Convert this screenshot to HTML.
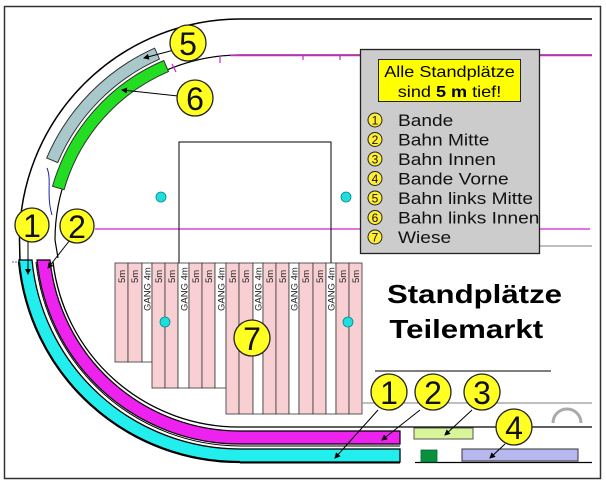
<!DOCTYPE html>
<html><head><meta charset="utf-8"><style>
html,body{margin:0;padding:0;background:#fff;}
svg{display:block;font-family:"Liberation Sans",sans-serif;}
</style></head><body>
<svg width="606" height="484" viewBox="0 0 606 484" xmlns="http://www.w3.org/2000/svg">
<rect x="0" y="0" width="606" height="484" fill="#fff"/>
<rect x="4.5" y="6.5" width="596" height="472" fill="none" stroke="#333" stroke-width="1.5"/>

<path d="M20,262 L19.5,240 A221,221 0 0 1 240,19 L592,19" fill="none" stroke="#000" stroke-width="1.5"/>
<path d="M58,258 L55,240 A185,185 0 0 1 240,55 L592,55" fill="none" stroke="#000" stroke-width="1.2"/>
<path d="M230,55.5 L592,55.5" stroke="#d020d0" stroke-width="1.5"/>
<g stroke="#d020d0" stroke-width="1.2">
<line x1="172" y1="64" x2="176" y2="72"/><line x1="220" y1="56" x2="220" y2="63"/>
<line x1="303" y1="56" x2="303" y2="60"/><line x1="340" y1="56" x2="340" y2="60"/>
</g>
<path d="M47,168 C52,180 46,195 52,215" fill="none" stroke="#2020b0" stroke-width="1"/>
<path d="M12,262 L22,262" stroke="#6060d0" stroke-width="1" stroke-dasharray="2,1"/>

<line x1="95" y1="229" x2="590" y2="229" stroke="#d020d0" stroke-width="1.3"/>
<line x1="540" y1="246" x2="592" y2="246" stroke="#999" stroke-width="1.2"/>

<path d="M46.7,158 A210,210 0 0 1 154.6,48.2 L159.5,59.1 A198,198 0 0 0 57.7,162.6 Z" fill="#a9c8cc" stroke="#333" stroke-width="1"/>
<path d="M52.5,186.3 A195,195 0 0 1 163.8,60.5 L168.5,71.6 A183,183 0 0 0 64.1,189.6 Z" fill="#22dd22" stroke="#333" stroke-width="1"/>

<rect x="179" y="142" width="152" height="130" fill="none" stroke="#000" stroke-width="1"/>

<g fill="#22dddd" stroke="#008888" stroke-width="0.8">
<circle cx="161" cy="197" r="5"/><circle cx="346" cy="197" r="5"/>
</g>

<g stroke="#333" stroke-width="0.8">
<rect x="115" y="263" width="13" height="99" fill="#f8d0d4"/>
<rect x="128" y="263" width="14" height="99" fill="#f8d0d4"/>
<rect x="142" y="263" width="10" height="99" fill="#fff"/>
<rect x="152" y="263" width="13" height="125" fill="#f8d0d4"/>
<rect x="165" y="263" width="13" height="125" fill="#f8d0d4"/>
<rect x="178" y="263" width="11" height="125" fill="#fff"/>
<rect x="189" y="263" width="13" height="125" fill="#f8d0d4"/>
<rect x="202" y="263" width="13" height="125" fill="#f8d0d4"/>
<rect x="215" y="263" width="11" height="125" fill="#fff"/>
<rect x="226" y="263" width="13" height="151" fill="#f8d0d4"/>
<rect x="239" y="263" width="14" height="151" fill="#f8d0d4"/>
<rect x="253" y="263" width="10" height="151" fill="#fff"/>
<rect x="263" y="263" width="13" height="151" fill="#f8d0d4"/>
<rect x="276" y="263" width="13" height="151" fill="#f8d0d4"/>
<rect x="289" y="263" width="10" height="151" fill="#fff"/>
<rect x="299" y="263" width="14" height="151" fill="#f8d0d4"/>
<rect x="313" y="263" width="13" height="151" fill="#f8d0d4"/>
<rect x="326" y="263" width="10" height="151" fill="#fff"/>
<rect x="336" y="263" width="13" height="151" fill="#f8d0d4"/>
<rect x="349" y="263" width="13" height="151" fill="#f8d0d4"/>
</g>
<g font-size="9.5" fill="#222">
<text transform="translate(125,283) rotate(-90)">5m</text>
<text transform="translate(138,283) rotate(-90)">5m</text>
<text transform="translate(150.5,311) rotate(-90)">GANG 4m</text>
<text transform="translate(162,283) rotate(-90)">5m</text>
<text transform="translate(175,283) rotate(-90)">5m</text>
<text transform="translate(187.5,311) rotate(-90)">GANG 4m</text>
<text transform="translate(199,283) rotate(-90)">5m</text>
<text transform="translate(212,283) rotate(-90)">5m</text>
<text transform="translate(224.5,311) rotate(-90)">GANG 4m</text>
<text transform="translate(236,283) rotate(-90)">5m</text>
<text transform="translate(249,283) rotate(-90)">5m</text>
<text transform="translate(261.5,311) rotate(-90)">GANG 4m</text>
<text transform="translate(273,283) rotate(-90)">5m</text>
<text transform="translate(286,283) rotate(-90)">5m</text>
<text transform="translate(297.5,311) rotate(-90)">GANG 4m</text>
<text transform="translate(309,283) rotate(-90)">5m</text>
<text transform="translate(323,283) rotate(-90)">5m</text>
<text transform="translate(334.5,311) rotate(-90)">GANG 4m</text>
<text transform="translate(346,283) rotate(-90)">5m</text>
<text transform="translate(359,283) rotate(-90)">5m</text>
</g>
<g fill="#22dddd" stroke="#008888" stroke-width="0.8">
<circle cx="165" cy="322" r="5"/><circle cx="348" cy="322" r="5"/>
</g>

<path d="M18.9,260 A222,222 0 0 0 240,462 L400,462 L400,449 L240,449 A209,209 0 0 1 32,260 Z" fill="#22eeee" stroke="#000" stroke-width="1.3"/>
<path d="M240,462.5 L400,462.5" stroke="#000" stroke-width="2"/>
<path d="M19,262 A221,221 0 0 0 240,462" fill="none" stroke="#000" stroke-width="2.2"/>
<path d="M36,262 A206,206 0 0 0 240,446 L400,446" fill="none" stroke="#000" stroke-width="1"/>
<path d="M37,260 A204,204 0 0 0 240,444 L400,444 L400,431 L240,431 A191,191 0 0 1 50,260 Z" fill="#ee22ee" stroke="#000" stroke-width="1.2"/>
<path d="M53,262 A187,187 0 0 0 240,427 L592,427" fill="none" stroke="#000" stroke-width="1.3"/>

<line x1="375" y1="371" x2="551" y2="371" stroke="#333" stroke-width="1.2"/>
<line x1="362" y1="403" x2="592" y2="403" stroke="#999" stroke-width="1.2"/>
<line x1="415" y1="462.5" x2="592" y2="462.5" stroke="#000" stroke-width="1.2"/>
<rect x="414" y="428" width="59" height="11" fill="#d9f59a" stroke="#555" stroke-width="1"/>
<rect x="421" y="450" width="16" height="12" fill="#0a8f3a" stroke="#064" stroke-width="0.8"/>
<rect x="462" y="449" width="116" height="12" fill="#b8b8f0" stroke="#333" stroke-width="1"/>
<path d="M553,423 A14,14 0 0 1 581,423" fill="none" stroke="#aaa" stroke-width="3"/>

<rect x="360.5" y="49.5" width="179" height="204" fill="#cccccc" stroke="#222" stroke-width="1.3"/>
<rect x="378.5" y="59.5" width="142" height="42" fill="#ffff00" stroke="#222" stroke-width="1"/>
<g transform="translate(449.5,0) scale(1.13,1)">
<text x="0" y="77" font-size="16" text-anchor="middle">Alle Standplätze</text>
<text x="0" y="97" font-size="16" text-anchor="middle">sind <tspan font-weight="bold">5 m</tspan> tief!</text>
</g>
<g fill="#ffee33" stroke="#222" stroke-width="1">
<circle cx="375" cy="120" r="7"/><circle cx="375" cy="139.5" r="7"/><circle cx="375" cy="159" r="7"/><circle cx="375" cy="178.5" r="7"/><circle cx="375" cy="198" r="7"/><circle cx="375" cy="217.5" r="7"/><circle cx="375" cy="237" r="7"/>
</g>
<g font-size="12" text-anchor="middle" fill="#111">
<text x="375" y="124.5">1</text><text x="375" y="144">2</text><text x="375" y="163.5">3</text><text x="375" y="183">4</text><text x="375" y="202.5">5</text><text x="375" y="222">6</text><text x="375" y="241.5">7</text>
</g>
<g font-size="16.5" fill="#111" transform="translate(398,0) scale(1.16,1)">
<text x="0" y="126">Bande</text>
<text x="0" y="145.5">Bahn Mitte</text>
<text x="0" y="165">Bahn Innen</text>
<text x="0" y="184.5">Bande Vorne</text>
<text x="0" y="204">Bahn links Mitte</text>
<text x="0" y="223.5">Bahn links Innen</text>
<text x="0" y="243">Wiese</text>
</g>

<g transform="translate(387,0) scale(1.2,1)">
<text x="0" y="303" font-size="26" font-weight="bold">Standplätze</text>
<text x="2" y="338" font-size="26" font-weight="bold">Teilemarkt</text>
</g>

<defs><marker id="a" markerWidth="6" markerHeight="6" refX="5" refY="3" orient="auto"><path d="M0,0 L6,3 L0,6 Z" fill="#000"/></marker></defs>
<g stroke="#000" stroke-width="1" marker-end="url(#a)">
<line x1="174" y1="50" x2="144" y2="58"/>
<line x1="178" y1="96" x2="122" y2="90"/>
<line x1="28" y1="240" x2="28" y2="274"/>
<line x1="70" y1="240" x2="48" y2="268"/>
<line x1="378" y1="410" x2="335" y2="458"/>
<line x1="420" y1="410" x2="382" y2="440"/>
<line x1="472" y1="410" x2="445" y2="435"/>
<line x1="505" y1="444" x2="490" y2="458"/>
</g>

<g fill="#ffff22" stroke="#222" stroke-width="1.3">
<circle cx="188" cy="43" r="18"/><circle cx="195" cy="98" r="18"/>
<circle cx="32" cy="225" r="17"/><circle cx="77" cy="226" r="17"/>
<circle cx="252" cy="338" r="18"/>
<circle cx="389" cy="392" r="18"/><circle cx="433" cy="392" r="18"/><circle cx="482" cy="392" r="18"/><circle cx="514" cy="427" r="18"/>
</g>
<g font-size="32" text-anchor="middle" fill="#111">
<text x="188" y="55">5</text><text x="195" y="110">6</text>
<text x="32" y="237">1</text><text x="77" y="238">2</text>
<text x="252" y="350">7</text>
<text x="389" y="404">1</text><text x="433" y="404">2</text><text x="482" y="404">3</text><text x="514" y="439">4</text>
</g>
</svg>
</body></html>
